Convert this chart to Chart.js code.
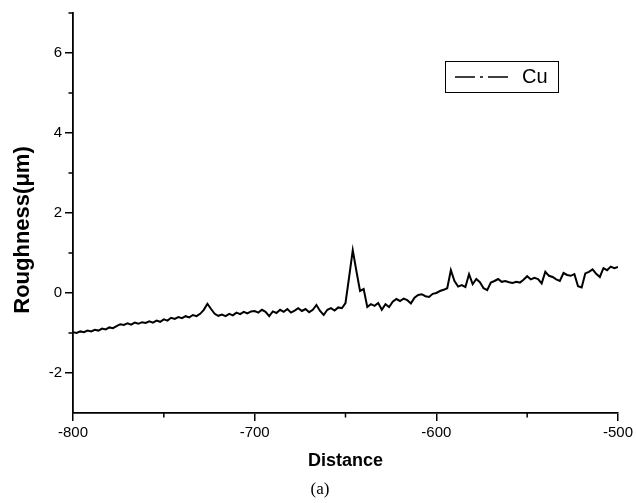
<!DOCTYPE html>
<html><head><meta charset="utf-8">
<script src="https://cdn.jsdelivr.net/npm/chart.js@4/dist/chart.umd.min.js"></script>
<style>html,body{margin:0;padding:0;background:#fff;}#wrap{width:636px;height:503px;}</style>
</head><body><div id="wrap"><canvas id="c" width="636" height="503"></canvas></div>
<script>
const distance = [
-800,-798,-796,-794,-792,-790,-788,-786,-784,-782,
-780,-778,-776,-774,-772,-770,-768,-766,-764,-762,
-760,-758,-756,-754,-752,-750,-748,-746,-744,-742,
-740,-738,-736,-734,-732,-730,-728,-726,-724,-722,
-720,-718,-716,-714,-712,-710,-708,-706,-704,-702,
-700,-698,-696,-694,-692,-690,-688,-686,-684,-682,
-680,-678,-676,-674,-672,-670,-668,-666,-664,-662,
-660,-658,-656,-654,-652,-650,-648,-646,-644,-642,
-640,-638,-636,-634,-632,-630,-628,-626,-624,-622,
-620,-618,-616,-614,-612,-610,-608,-606,-604,-602,
-600,-598,-596,-594,-592,-590,-588,-586,-584,-582,
-580,-578,-576,-574,-572,-570,-568,-566,-564,-562,
-560,-558,-556,-554,-552,-550,-548,-546,-544,-542,
-540,-538,-536,-534,-532,-530,-528,-526,-524,-522,
-520,-518,-516,-514,-512,-510,-508,-506,-504,-502,
-500];
const roughness = [
-0.98,-1.00,-0.96,-0.98,-0.94,-0.96,-0.92,-0.94,-0.89,-0.91,
-0.86,-0.88,-0.83,-0.78,-0.80,-0.76,-0.79,-0.74,-0.77,-0.73,
-0.75,-0.71,-0.74,-0.69,-0.72,-0.66,-0.69,-0.62,-0.65,-0.60,
-0.63,-0.58,-0.61,-0.55,-0.58,-0.52,-0.42,-0.27,-0.40,-0.52,
-0.57,-0.54,-0.58,-0.52,-0.56,-0.49,-0.53,-0.47,-0.51,-0.46,
-0.45,-0.49,-0.42,-0.47,-0.58,-0.46,-0.50,-0.42,-0.47,-0.40,
-0.49,-0.44,-0.38,-0.45,-0.40,-0.48,-0.42,-0.30,-0.45,-0.55,
-0.42,-0.38,-0.44,-0.36,-0.38,-0.25,0.40,1.07,0.55,0.05,
0.10,-0.35,-0.28,-0.32,-0.25,-0.42,-0.28,-0.35,-0.22,-0.15,
-0.20,-0.14,-0.18,-0.26,-0.12,-0.05,-0.03,-0.08,-0.10,-0.02,
0.00,0.05,0.08,0.12,0.57,0.30,0.16,0.20,0.15,0.47,
0.22,0.35,0.27,0.12,0.07,0.26,0.30,0.35,0.28,0.30,
0.27,0.25,0.28,0.26,0.33,0.42,0.34,0.38,0.35,0.24,
0.53,0.43,0.40,0.34,0.30,0.50,0.45,0.43,0.47,0.17,
0.14,0.49,0.53,0.59,0.48,0.40,0.62,0.57,0.66,0.62,
0.65];
const seriesName = 'Cu';
const xTickLabels = [-800, -700, -600, -500];
const yTickLabels = [-2, 0, 2, 4, 6];
const xTitle = 'Distance';
const yTitle = 'Roughness(\u03bcm)';
const caption = '(a)';

const points = distance.map((d, i) => ({x: d, y: roughness[i]}));
const SANS = '"Liberation Sans", Arial, sans-serif';
const SERIF = '"Liberation Serif", "Times New Roman", serif';

const extras = {
  id: 'extras',
  afterDraw(chart) {
    const ctx = chart.ctx, xs = chart.scales.x, ys = chart.scales.y;
    ctx.save();
    // minor ticks
    ctx.strokeStyle = '#000';
    ctx.lineWidth = 1.5;
    ctx.beginPath();
    xs.ticks.forEach(t => {
      if (!xTickLabels.includes(t.value)) {
        const px = xs.getPixelForValue(t.value);
        ctx.moveTo(px, ys.bottom); ctx.lineTo(px, ys.bottom + 4.5);
      }
    });
    ys.ticks.forEach(t => {
      if (!yTickLabels.includes(t.value) && t.value !== -3) {
        const py = ys.getPixelForValue(t.value);
        ctx.moveTo(xs.left, py); ctx.lineTo(xs.left - 4.5, py);
      }
    });
    ctx.stroke();
    // y axis title
    ctx.fillStyle = '#000';
    ctx.font = 'bold 22px ' + SANS;
    ctx.textAlign = 'center';
    ctx.textBaseline = 'middle';
    ctx.save();
    ctx.translate(23, 230);
    ctx.rotate(-Math.PI / 2);
    ctx.fillText(yTitle, 0, 0);
    ctx.restore();
    // caption
    ctx.font = '17px ' + SERIF;
    ctx.fillText(caption, 320, 490);
    // legend box
    const ds = chart.data.datasets[0];
    ctx.lineWidth = 1;
    ctx.strokeRect(445.5, 61.5, 113, 31);
    ctx.lineWidth = 1.6;
    ctx.setLineDash([20, 5, 3, 5, 20, 100]);
    ctx.beginPath();
    ctx.moveTo(455, 77); ctx.lineTo(508, 77);
    ctx.stroke();
    ctx.setLineDash([]);
    ctx.font = '20px ' + SANS;
    ctx.textAlign = 'left';
    ctx.fillText(ds.label, 522, 77);
    ctx.restore();
  }
};

new Chart(document.getElementById('c'), {
  type: 'line',
  data: {
    datasets: [{
      label: seriesName,
      data: points,
      borderColor: '#000',
      borderWidth: 2,
      pointRadius: 0,
      tension: 0,
      fill: false
    }]
  },
  options: {
    responsive: false,
    devicePixelRatio: 1,
    animation: false,
    events: [],
    layout: {padding: {left: 0, right: 16, top: 13, bottom: 24}},
    plugins: {
      legend: {display: false},
      tooltip: {enabled: false},
      title: {display: false}
    },
    scales: {
      x: {
        type: 'linear',
        min: -800, max: -500,
        afterFit: s => { s.height = 66; },
        afterBuildTicks: s => { s.ticks = [-800,-750,-700,-650,-600,-550,-500].map(v => ({value: v})); },
        border: {display: true, color: '#000', width: 1.8},
        grid: {drawOnChartArea: false, drawTicks: true, tickLength: 8,
               color: c => (c.tick && xTickLabels.includes(c.tick.value)) ? '#000' : 'rgba(0,0,0,0)', lineWidth: 1.5},
        ticks: {
          color: '#000', padding: 3, maxRotation: 0, autoSkip: false,
          font: {family: SANS, size: 15},
          callback: v => xTickLabels.includes(v) ? String(v) : ''
        },
        title: {display: true, text: xTitle, color: '#000',
                font: {family: SANS, size: 18, weight: 'bold', lineHeight: 1.2},
                padding: {top: 0, bottom: 7}}
      },
      y: {
        type: 'linear',
        min: -3, max: 7,
        afterFit: s => { s.width = 73; },
        afterBuildTicks: s => { s.ticks = [-3,-2,-1,0,1,2,3,4,5,6,7].map(v => ({value: v})); },
        border: {display: true, color: '#000', width: 1.8},
        grid: {drawOnChartArea: false, drawTicks: true, tickLength: 8,
               color: c => (c.tick && yTickLabels.includes(c.tick.value)) ? '#000' : 'rgba(0,0,0,0)', lineWidth: 1.5},
        ticks: {
          color: '#000', padding: 3, autoSkip: false,
          font: {family: SANS, size: 15},
          callback: v => yTickLabels.includes(v) ? String(v) : ''
        },
        title: {display: false}
      }
    }
  },
  plugins: [extras]
});
</script>
</body></html>
